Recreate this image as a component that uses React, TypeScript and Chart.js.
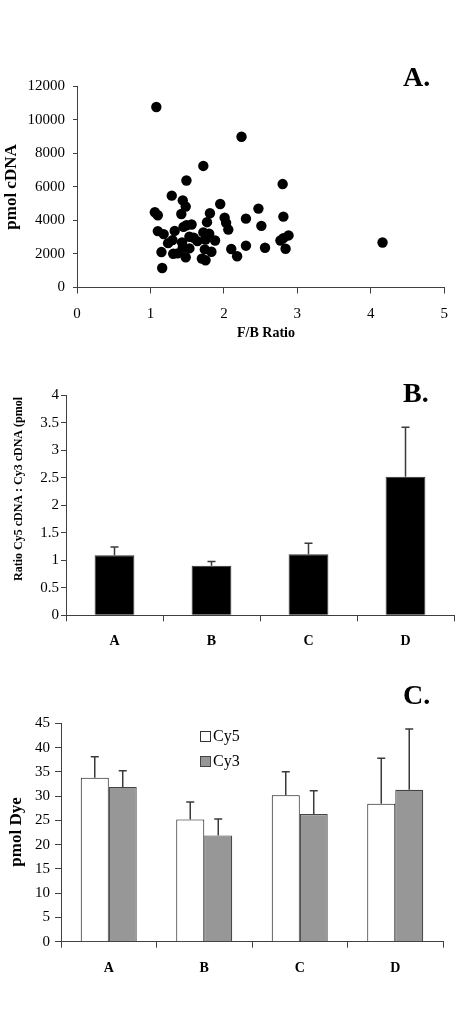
import React, { useEffect, useRef } from "react";
import { Chart, registerables } from "chart.js";

Chart.register(...registerables);

const FONT = "'Liberation Serif', 'Times New Roman', serif";

// ---- Panel A: scatter ----
const fbRatio = [
  1.08, 2.24, 1.72, 1.49, 2.8, 1.29, 1.44, 1.48, 1.95, 2.47, 1.06, 1.1, 1.42, 1.81, 2.81, 2.3, 2.01, 2.03, 1.77,
  2.51, 2.06, 1.1, 1.18, 1.33, 1.45, 1.49, 1.56, 1.72, 1.8, 2.88, 2.81, 2.77, 1.24, 1.3, 1.43, 1.53, 1.59, 1.64,
  1.75, 1.88, 4.16, 1.44, 1.53, 1.74, 2.1, 2.3, 2.56, 2.84, 1.15, 1.31, 1.37, 1.83, 1.48, 1.7, 1.75, 2.18, 1.16,
];
const pmolCdna = [
  10750, 8980, 7240, 6370, 6160, 5470, 5190, 4820, 4970, 4700, 4480, 4300, 4380, 4420, 4220, 4100, 4160, 3850, 3890,
  3670, 3450, 3360, 3180, 3370, 3610, 3710, 3750, 3280, 3200, 3100, 2940, 2800, 2640, 2820, 2680, 3020, 2960, 2760,
  2860, 2800, 2680, 2370, 2330, 2270, 2290, 2490, 2370, 2310, 2110, 2010, 2030, 2130, 1800, 1720, 1620, 1860, 1160,
];

// ---- Panel B: ratio bars ----
const groups = ["A", "B", "C", "D"];
const ratioValues = [1.09, 0.9, 1.11, 2.52];
const ratioErrors = [0.15, 0.08, 0.2, 0.9];

// ---- Panel C: dye bars ----
const cy5Values = [33.8, 25.2, 30.2, 28.4];
const cy5Errors = [4.3, 3.6, 4.8, 9.4];
const cy3Values = [31.9, 21.9, 26.3, 31.3];
const cy3Errors = [3.3, 3.4, 4.8, 12.5];

type TextItem = { text: string; x: number; y: number; font: string; rotate?: boolean; align?: CanvasTextAlign };

function textPlugin(items: TextItem[]) {
  return {
    id: "texts",
    afterDraw(chart: any) {
      const ctx = chart.ctx;
      items.forEach((it) => {
        ctx.save();
        ctx.fillStyle = "#000";
        ctx.font = it.font;
        ctx.textAlign = it.align || "center";
        ctx.textBaseline = "middle";
        ctx.translate(it.x, it.y);
        if (it.rotate) ctx.rotate(-Math.PI / 2);
        ctx.fillText(it.text, 0, 0);
        ctx.restore();
      });
    },
  };
}

const errorBarPlugin = {
  id: "errorBars",
  afterDatasetsDraw(chart: any) {
    const ctx = chart.ctx;
    chart.data.datasets.forEach((ds: any, i: number) => {
      const errs = ds.errors;
      if (!errs) return;
      const meta = chart.getDatasetMeta(i);
      const yScale = chart.scales[meta.yAxisID];
      meta.data.forEach((bar: any, j: number) => {
        const top = yScale.getPixelForValue(ds.data[j] + errs[j]);
        ctx.save();
        ctx.strokeStyle = "#3a3a3a";
        ctx.lineWidth = 1.5;
        ctx.beginPath();
        ctx.moveTo(bar.x, bar.y);
        ctx.lineTo(bar.x, top);
        ctx.moveTo(bar.x - 4, top);
        ctx.lineTo(bar.x + 4, top);
        ctx.stroke();
        ctx.restore();
      });
    });
  },
};

function legendPlugin(entries: { label: string; fill: string; border: string; y: number }[], x: number) {
  return {
    id: "customLegend",
    afterDraw(chart: any) {
      const ctx = chart.ctx;
      entries.forEach((e) => {
        ctx.save();
        ctx.fillStyle = e.fill;
        ctx.strokeStyle = e.border;
        ctx.lineWidth = 1;
        ctx.fillRect(x, e.y - 5, 10, 10);
        ctx.strokeRect(x + 0.5, e.y - 4.5, 10, 10);
        ctx.fillStyle = "#000";
        ctx.font = `16px ${FONT}`;
        ctx.textAlign = "left";
        ctx.textBaseline = "middle";
        ctx.fillText(e.label, x + 13, e.y + 1);
        ctx.restore();
      });
    },
  };
}

const axisColor = "#404040";

function valueAxis(min: number, max: number, step: number, width: number, tickLen: number, pad: number) {
  return {
    min,
    max,
    ticks: {
      stepSize: step,
      color: "#000",
      font: { family: FONT, size: 15 },
      padding: pad,
      callback: (v: any) => String(v),
    },
    grid: { display: true, drawOnChartArea: false, drawTicks: true, tickLength: tickLen, color: axisColor },
    border: { display: true, color: axisColor, width: 1 },
    afterFit: (s: any) => {
      s.width = width;
    },
  };
}

function categoryAxis(height: number) {
  return {
    ticks: { color: "#000", font: { family: FONT, size: 14, weight: "bold" }, padding: 12 },
    grid: { display: true, drawOnChartArea: false, drawTicks: true, tickLength: 6, color: axisColor, offset: true },
    border: { display: true, color: axisColor, width: 1 },
    afterFit: (s: any) => {
      s.height = height;
    },
  };
}

function useChart(factory: (c: HTMLCanvasElement) => Chart) {
  const ref = useRef<HTMLCanvasElement>(null);
  useEffect(() => {
    if (!ref.current) return;
    const c = factory(ref.current);
    return () => c.destroy();
  }, []);
  return ref;
}

const baseOpts = {
  responsive: false,
  animation: false as const,
  plugins: { legend: { display: false }, tooltip: { enabled: false } },
};

export default function App() {
  const refA = useChart(
    (el) =>
      new Chart(el, {
        type: "scatter",
        data: {
          datasets: [
            {
              data: fbRatio.map((x, i) => ({ x, y: pmolCdna[i] })),
              backgroundColor: "#000",
              borderColor: "#000",
              pointRadius: 5.2,
              pointBorderWidth: 0,
            },
          ],
        },
        options: {
          ...baseOpts,
          layout: { padding: { top: 86, right: 6, left: 0, bottom: 0 } },
          scales: {
            x: {
              type: "linear",
              min: 0,
              max: 5,
              ticks: { stepSize: 1, color: "#000", font: { family: FONT, size: 15 }, padding: 12 },
              grid: { display: true, drawOnChartArea: false, drawTicks: true, tickLength: 6, color: axisColor },
              border: { display: true, color: axisColor, width: 1 },
              afterFit: (s: any) => {
                s.height = 345 - 287.5;
              },
            },
            y: valueAxis(0, 12000, 2000, 77, 4, 8),
          },
        },
        plugins: [
          textPlugin([
            { text: "A.", x: 403, y: 79, font: `bold 28px ${FONT}`, align: "left" },
            { text: "pmol cDNA", x: 12, y: 187, font: `bold 17px ${FONT}`, rotate: true },
            { text: "F/B Ratio", x: 266, y: 333, font: `bold 14px ${FONT}` },
          ]),
        ],
      } as any)
  );

  const refB = useChart(
    (el) =>
      new Chart(el, {
        type: "bar",
        data: {
          labels: groups,
          datasets: [
            {
              data: ratioValues,
              errors: ratioErrors,
              backgroundColor: "#000",
              borderColor: "#333",
              borderWidth: 1,
              barPercentage: 0.41,
              categoryPercentage: 1,
            } as any,
          ],
        },
        options: {
          ...baseOpts,
          layout: { padding: { top: 50.3, right: 6, left: 0, bottom: 0 } },
          scales: {
            x: categoryAxis(320 - 270.3),
            y: valueAxis(0, 4, 0.5, 66, 5, 2),
          },
        },
        plugins: [
          errorBarPlugin,
          textPlugin([
            { text: "B.", x: 403, y: 395 - 345, font: `bold 28px ${FONT}`, align: "left" },
            { text: "Ratio Cy5 cDNA : Cy3 cDNA (pmol", x: 19, y: 489 - 345, font: `bold 12px ${FONT}`, rotate: true },
          ]),
        ],
      } as any)
  );

  const refC = useChart(
    (el) =>
      new Chart(el, {
        type: "bar",
        data: {
          labels: groups,
          datasets: [
            {
              label: "Cy5",
              data: cy5Values,
              errors: cy5Errors,
              backgroundColor: "#ffffff",
              borderColor: "#111",
              borderWidth: 1,
              barPercentage: 1,
              categoryPercentage: 0.586,
            } as any,
            {
              label: "Cy3",
              data: cy3Values,
              errors: cy3Errors,
              backgroundColor: "#979797",
              borderColor: "#444",
              borderWidth: 1.2,
              barPercentage: 1,
              categoryPercentage: 0.586,
            } as any,
          ],
        },
        options: {
          ...baseOpts,
          layout: { padding: { top: 58.3, right: 17, left: 0, bottom: 0 } },
          scales: {
            x: categoryAxis(359 - 276.7),
            y: valueAxis(0, 45, 5, 61, 6, 5),
          },
        },
        plugins: [
          errorBarPlugin,
          legendPlugin(
            [
              { label: "Cy5", fill: "#ffffff", border: "#333", y: 736 - 665 },
              { label: "Cy3", fill: "#979797", border: "#444", y: 761 - 665 },
            ],
            200
          ),
          textPlugin([
            { text: "C.", x: 403, y: 697 - 665, font: `bold 28px ${FONT}`, align: "left" },
            { text: "pmol Dye", x: 17, y: 832 - 665, font: `bold 17px ${FONT}`, rotate: true },
          ]),
        ],
      } as any)
  );

  const cs = (top: number, h: number): React.CSSProperties => ({
    position: "absolute",
    left: 0,
    top,
    width: 460,
    height: h,
  });

  return (
    <div style={{ position: "fixed", left: 0, top: 0, width: 460, height: 1024, background: "#fff" }}>
      <canvas ref={refA} width={460} height={345} style={cs(0, 345)} />
      <canvas ref={refB} width={460} height={320} style={cs(345, 320)} />
      <canvas ref={refC} width={460} height={359} style={cs(665, 359)} />
    </div>
  );
}
